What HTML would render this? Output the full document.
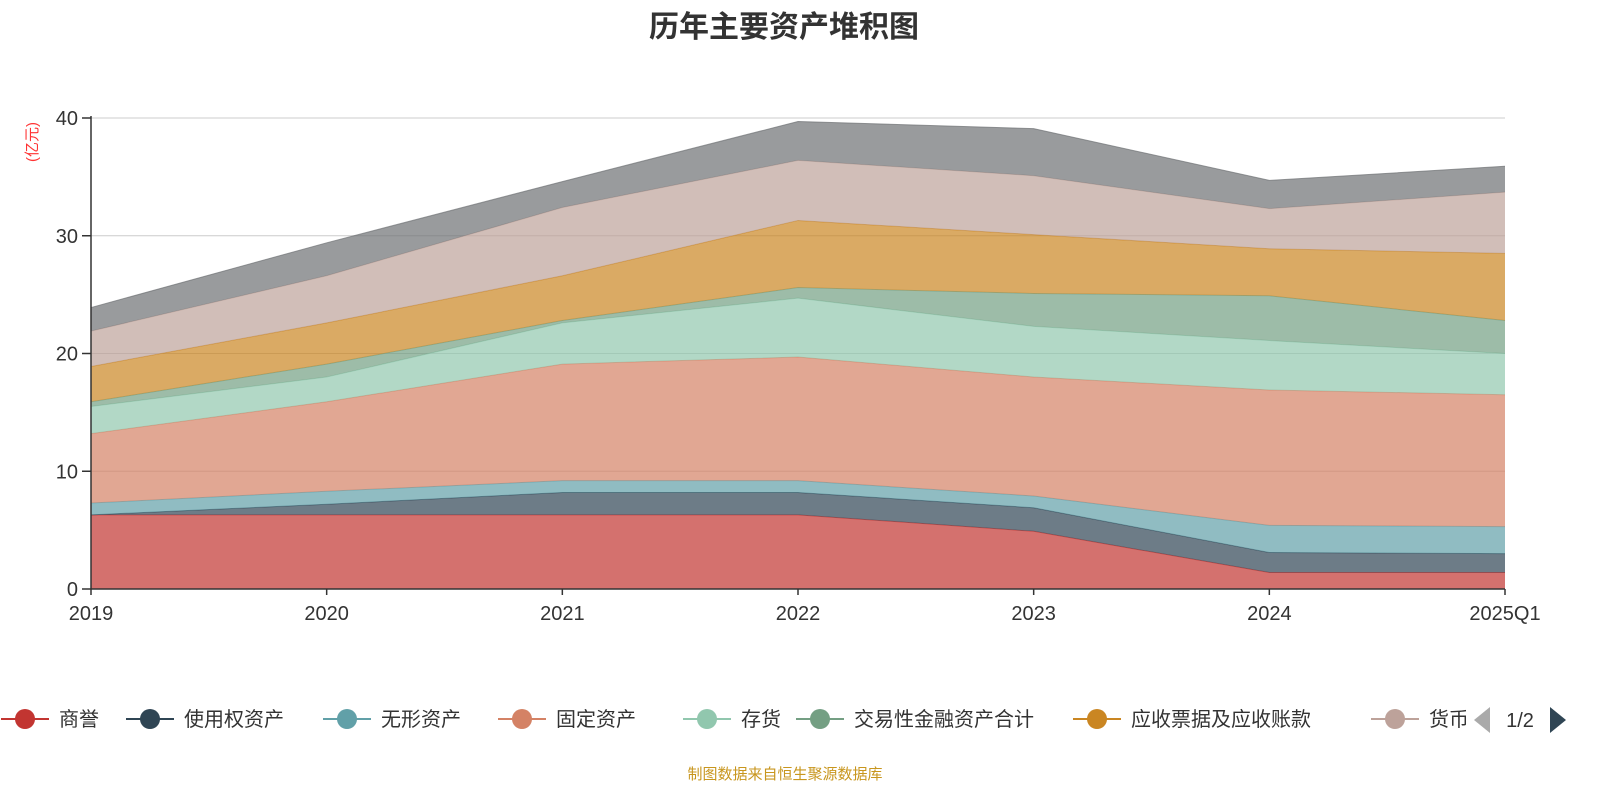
<!DOCTYPE html>
<html><head><meta charset="utf-8">
<style>
body{margin:0;background:#fff;width:1600px;height:800px;overflow:hidden;font-family:"Liberation Sans","Noto Sans CJK SC",sans-serif;}
</style></head>
<body>
<svg id="chart" width="1600" height="800" xmlns="http://www.w3.org/2000/svg" font-family="Liberation Sans, Noto Sans CJK SC, sans-serif">
<text x="784" y="37" text-anchor="middle" font-size="30" font-weight="bold" fill="#333">历年主要资产堆积图</text>
<text transform="translate(37,142) rotate(-90)" text-anchor="middle" font-size="15" fill="#ff3333">(亿元)</text>
<g id="grid"></g>
<g id="areas"></g>
<g id="axes"></g>
<g id="legend"></g>
<text x="785" y="779" text-anchor="middle" font-size="15" fill="#c8961e">制图数据来自恒生聚源数据库</text>
</svg>
<script>
const categories=["2019","2020","2021","2022","2023","2024","2025Q1"];
const seriesNames=["商誉","使用权资产","无形资产","固定资产","存货","交易性金融资产合计","应收票据及应收账款","货币资金","其他"];
const s0=[6.3,6.3,6.3,6.3,4.9,1.4,1.4];
const s1=[0,0.9,1.9,1.9,2.0,1.7,1.6];
const s2=[1.0,1.1,1.0,1.0,1.0,2.3,2.3];
const s3=[5.9,7.6,9.9,10.5,10.1,11.5,11.2];
const s4=[2.3,2.1,3.5,5.0,4.3,4.2,3.5];
const s5=[0.4,1.1,0.2,0.9,2.8,3.8,2.8];
const s6=[3.0,3.5,3.8,5.7,5.0,4.0,5.7];
const s7=[3.0,4.0,5.8,5.1,5.0,3.4,5.2];
const s8=[2.0,2.8,2.2,3.3,4.0,2.4,2.2];
const yTicks=[0,10,20,30,40];
const series=[s0,s1,s2,s3,s4,s5,s6,s7,s8];
const colors=["#c23531","#2f4554","#61a0a8","#d48265","#91c7ae","#749f83","#ca8622","#bda29a","#6e7074"];
const NS="http://www.w3.org/2000/svg";
const X0=91,X1=1505,Y0=589,Y1=118,YMAX=40;
const xs=i=>X0+(X1-X0)*i/(categories.length-1);
const ys=v=>Y0-(Y0-Y1)*v/YMAX;
function mk(tag,attrs,parent){const e=document.createElementNS(NS,tag);for(const k in attrs)e.setAttribute(k,attrs[k]);parent.appendChild(e);return e;}
const grid=document.getElementById('grid'),areas=document.getElementById('areas'),axes=document.getElementById('axes'),legend=document.getElementById('legend');
yTicks.forEach(t=>{
  if(t>0){const l=mk('line',{x1:X0,x2:X1,y1:ys(t),y2:ys(t),stroke:'#ccc','stroke-width':1},grid);
  
  }
  const tk=mk('line',{x1:X0-9,x2:X0,y1:ys(t),y2:ys(t),stroke:'#333','stroke-width':1.5},axes);
  
  
  const tx=mk('text',{x:X0-13,y:ys(t)+7,'text-anchor':'end','font-size':20,fill:'#333'},axes);
  tx.textContent=t;
  
  
});
let base=categories.map(()=>0);
series.forEach((s,k)=>{
  const top=base.map((b,i)=>b+s[i]);
  let d='M'+categories.map((c,i)=>xs(i)+','+ys(top[i])).join('L');
  for(let i=categories.length-1;i>=0;i--)d+='L'+xs(i)+','+ys(base[i]);
  d+='Z';
  const p=mk('path',{d:d,fill:colors[k],'fill-opacity':0.7,stroke:'none'},areas);
  
  
  const ln=mk('polyline',{points:categories.map((c,i)=>xs(i)+','+ys(top[i])).join(' '),fill:'none',stroke:colors[k],'stroke-opacity':0.7,'stroke-width':1},areas);
  
  
  base=top;
});
const ya=mk('line',{x1:X0,x2:X0,y1:Y1-2,y2:Y0,stroke:'#333','stroke-width':1.5},axes);


const xa=mk('line',{x1:X0,x2:X1,y1:Y0,y2:Y0,stroke:'#333','stroke-width':1.5},axes);


categories.forEach((c,i)=>{
  const tk=mk('line',{x1:xs(i),x2:xs(i),y1:Y0,y2:Y0+6,stroke:'#333','stroke-width':1.5},axes);
  
  
  const t=mk('text',{x:xs(i),y:620,'text-anchor':'middle','font-size':20,fill:'#333'},axes);
  t.textContent=c;
  
  
});
const legIcon=[25,150,347,522,707,820,1097,1395];
const defs=mk('defs',{},legend);
const cp=mk('clipPath',{id:'legclip'},defs);
mk('rect',{x:0,y:690,width:1466,height:60},cp);
const lg=mk('g',{'clip-path':'url(#legclip)'},legend);
legIcon.forEach((x,k)=>{
  const g=mk('g',{},lg);
  
  
  mk('line',{x1:x-24,x2:x+24,y1:719,y2:719,stroke:colors[k],'stroke-width':2},g);
  mk('circle',{cx:x,cy:719,r:10,fill:colors[k]},g);
  const t=mk('text',{x:x+34,y:726,'font-size':20,fill:'#333'},g);
  t.textContent=seriesNames[k];
});
const pl=mk('path',{d:'M1490,707 L1490,733 L1474,720 Z',fill:'#aaa'},legend);


const pt=mk('text',{x:1520,y:727,'text-anchor':'middle','font-size':20,fill:'#333'},legend);
pt.textContent='1/2';


const pr=mk('path',{d:'M1550,707 L1550,733 L1566,720 Z',fill:'#2f4554'},legend);


</script>
</body></html>
